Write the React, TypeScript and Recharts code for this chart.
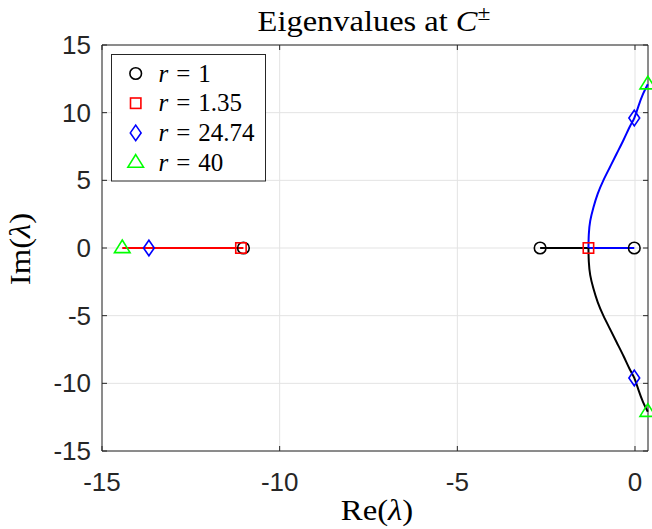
import React from "react";
import { ComposedChart, XAxis, YAxis, CartesianGrid, Scatter, Line, ReferenceArea } from "recharts";

const W = 652;
const H = 529;
const PLOT = { left: 102, right: 648, top: 45, bottom: 451 };

const xTicks = [-15, -10, -5, 0];
const yTicks = [-15, -10, -5, 0, 5, 10, 15];
const xDomain: [number, number] = [-15, 0.366];
const yDomain: [number, number] = [-15, 15];

// eigenvalue markers for each r
const r1Points = [
  { x: -11.02, y: 0 },
  { x: -2.67, y: 0 },
  { x: -0.02, y: 0 },
];
const r135Points = [
  { x: -11.09, y: 0 },
  { x: -1.31, y: 0 },
];
const r2474Points = [
  { x: -13.68, y: 0 },
  { x: -0.02, y: 9.6 },
  { x: -0.02, y: -9.6 },
];
const r40Points = [
  { x: -14.43, y: 0 },
  { x: 0.36, y: 12.1 },
  { x: 0.36, y: -12.1 },
];

// root-locus branches
const redBranch = [
  { x: -11.02, y: 0 },
  { x: -14.43, y: 0 },
];
const blackStraight = [
  { x: -2.67, y: 0 },
  { x: -1.31, y: 0 },
];
const blueStraight = [
  { x: -0.02, y: 0 },
  { x: -1.31, y: 0 },
];
const blueCurve = [
  { x: -1.31, y: 0 },
  { x: -1.3, y: 1 },
  { x: -1.26, y: 2 },
  { x: -1.17, y: 3 },
  { x: -1.05, y: 4 },
  { x: -0.89, y: 5 },
  { x: -0.7, y: 6 },
  { x: -0.51, y: 7 },
  { x: -0.32, y: 8 },
  { x: -0.14, y: 9 },
  { x: -0.02, y: 9.6 },
  { x: 0.1, y: 10.5 },
  { x: 0.23, y: 11.4 },
  { x: 0.36, y: 12.1 },
];
const blackCurve = [
  { x: -1.31, y: 0 },
  { x: -1.3, y: -1 },
  { x: -1.26, y: -2 },
  { x: -1.17, y: -3 },
  { x: -1.05, y: -4 },
  { x: -0.89, y: -5 },
  { x: -0.7, y: -6 },
  { x: -0.51, y: -7 },
  { x: -0.32, y: -8 },
  { x: -0.14, y: -9 },
  { x: -0.02, y: -9.6 },
  { x: 0.1, y: -10.5 },
  { x: 0.23, y: -11.4 },
  { x: 0.36, y: -12.1 },
];

const legendValues = ["1", "1.35", "24.74", "40"];
const legendKinds = ["circle", "square", "diamond", "triangle"];
const legendColors = ["#000000", "#ff0000", "#0000ff", "#00ff00"];

const AXIS_COLOR = "#262626";
const SERIF = "'Liberation Serif', 'Times New Roman', serif";
const SANS = "'Liberation Sans', Arial, Helvetica, sans-serif";

function Marker({ kind, cx, cy, color }: { kind: string; cx: number; cy: number; color: string }) {
  const sw = 1.6;
  if (kind === "circle") {
    return <circle cx={cx} cy={cy} r={5.8} fill="none" stroke={color} strokeWidth={sw} />;
  }
  if (kind === "square") {
    return <rect x={cx - 5.2} y={cy - 5.2} width={10.4} height={10.4} fill="none" stroke={color} strokeWidth={sw} />;
  }
  if (kind === "diamond") {
    const pts = `${cx},${cy - 7.8} ${cx + 5.4},${cy} ${cx},${cy + 7.8} ${cx - 5.4},${cy}`;
    return <polygon points={pts} fill="none" stroke={color} strokeWidth={sw} />;
  }
  const pts = `${cx},${cy - 8} ${cx + 7.8},${cy + 4.6} ${cx - 7.8},${cy + 4.6}`;
  return <polygon points={pts} fill="none" stroke={color} strokeWidth={sw} />;
}

function XTick(props: any) {
  const { x, payload } = props;
  return (
    <g>
      <line x1={x} x2={x} y1={PLOT.bottom} y2={PLOT.bottom - 5} stroke={AXIS_COLOR} strokeWidth={1} />
      <line x1={x} x2={x} y1={PLOT.top} y2={PLOT.top + 5} stroke={AXIS_COLOR} strokeWidth={1} />
      <text x={x} y={491} textAnchor="middle" fontFamily={SANS} fontSize={26} fill={AXIS_COLOR}>
        {String(payload.value)}
      </text>
    </g>
  );
}

function YTick(props: any) {
  const { y, payload } = props;
  return (
    <g>
      <line x1={PLOT.left} x2={PLOT.left + 5} y1={y} y2={y} stroke={AXIS_COLOR} strokeWidth={1} />
      <line x1={PLOT.right} x2={PLOT.right - 5} y1={y} y2={y} stroke={AXIS_COLOR} strokeWidth={1} />
      <text x={91} y={y} dy={9} textAnchor="end" fontFamily={SANS} fontSize={26} fill={AXIS_COLOR}>
        {String(payload.value)}
      </text>
    </g>
  );
}

const shapeFor = (kind: string, color: string) => (p: any) => <Marker kind={kind} cx={p.cx} cy={p.cy} color={color} />;

export default function App() {
  return (
    <div style={{ position: "relative", width: W, height: H, background: "#fff" }}>
      <style>{"body{margin:0;background:#fff}"}</style>
      <ComposedChart width={W} height={H} margin={{ top: PLOT.top, right: W - PLOT.right, bottom: 0, left: 0 }}>
        <CartesianGrid stroke="#e3e3e3" strokeWidth={1} />
        <XAxis
          type="number"
          dataKey="x"
          domain={xDomain}
          ticks={xTicks}
          interval={0}
          height={H - PLOT.bottom}
          axisLine={false}
          tickLine={false}
          tick={<XTick />}
        />
        <YAxis
          type="number"
          dataKey="y"
          domain={yDomain}
          ticks={yTicks}
          interval={0}
          width={PLOT.left}
          axisLine={false}
          tickLine={false}
          tick={<YTick />}
        />
        <ReferenceArea
          x1={xDomain[0]}
          x2={xDomain[1]}
          y1={yDomain[0]}
          y2={yDomain[1]}
          fill="none"
          fillOpacity={0}
          stroke={AXIS_COLOR}
          strokeWidth={1}
          ifOverflow="visible"
        />
        <Line data={redBranch} dataKey="y" type="linear" stroke="#ff0000" strokeWidth={2} dot={false} activeDot={false} isAnimationActive={false} legendType="none" />
        <Line data={blackStraight} dataKey="y" type="linear" stroke="#000000" strokeWidth={2} dot={false} activeDot={false} isAnimationActive={false} legendType="none" />
        <Line data={blueStraight} dataKey="y" type="linear" stroke="#0000ff" strokeWidth={2} dot={false} activeDot={false} isAnimationActive={false} legendType="none" />
        <Line data={blueCurve} dataKey="y" type="natural" stroke="#0000ff" strokeWidth={2} dot={false} activeDot={false} isAnimationActive={false} legendType="none" />
        <Line data={blackCurve} dataKey="y" type="natural" stroke="#000000" strokeWidth={2} dot={false} activeDot={false} isAnimationActive={false} legendType="none" />
        <Scatter data={r1Points} dataKey="y" isAnimationActive={false} shape={shapeFor("circle", "#000000")} />
        <Scatter data={r135Points} dataKey="y" isAnimationActive={false} shape={shapeFor("square", "#ff0000")} />
        <Scatter data={r2474Points} dataKey="y" isAnimationActive={false} shape={shapeFor("diamond", "#0000ff")} />
        <Scatter data={r40Points} dataKey="y" isAnimationActive={false} shape={shapeFor("triangle", "#00ff00")} />
      </ComposedChart>
      <svg
        width={W}
        height={H}
        style={{ position: "absolute", left: 0, top: 0, pointerEvents: "none", overflow: "visible" }}
      >
        <text transform="translate(374,31) scale(1.12,1)" textAnchor="middle" fontFamily={SERIF} fontSize={29} fill="#000">
          Eigenvalues at <tspan fontStyle="italic">C</tspan>
          <tspan fontSize={21} dy={-11}>±</tspan>
        </text>
        <text transform="translate(377,520) scale(1.13,1)" textAnchor="middle" fontFamily={SERIF} fontSize={29} fill="#000">
          Re(<tspan fontStyle="italic">λ</tspan>)
        </text>
        <text transform="translate(30,249) rotate(-90) scale(1.13,1)" textAnchor="middle" fontFamily={SERIF} fontSize={29} fill="#000">
          Im(<tspan fontStyle="italic">λ</tspan>)
        </text>
        <g>
          <rect x={111.5} y={54.5} width={154} height={126.5} fill="#fff" stroke={AXIS_COLOR} strokeWidth={1} />
          {legendValues.map((v, i) => {
            const cy = 73.5 + i * 29.7;
            return (
              <g key={v}>
                <Marker kind={legendKinds[i]} cx={135.7} cy={cy} color={legendColors[i]} />
                <text x={158.5} y={cy + 8} fontFamily={SERIF} fontSize={25} fill="#000">
                  <tspan fontStyle="italic">r</tspan>
                  <tspan dx={8}>=</tspan>
                  <tspan dx={8}>{v}</tspan>
                </text>
              </g>
            );
          })}
        </g>
      </svg>
    </div>
  );
}
